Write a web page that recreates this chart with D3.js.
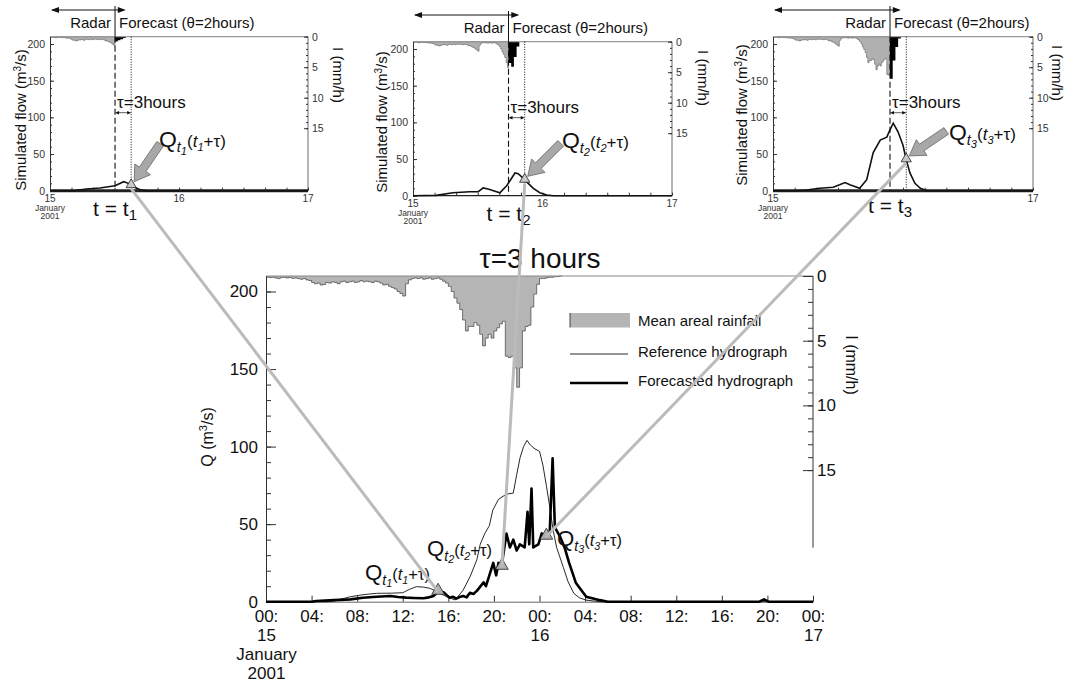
<!DOCTYPE html>
<html>
<head>
<meta charset="utf-8">
<script src="https://cdn.jsdelivr.net/npm/d3@7"></script>
<style>
body { margin: 0; background: #fff; }
svg { display: block; font-family: "Liberation Sans", Arial, Helvetica, sans-serif; }
</style>
</head>
<body>
<svg id="fig" width="1069" height="682"></svg>
<script>
// ---- data (hours since 00:00 15 January 2001) ----
const hourTicks = [0, 4, 8, 12, 16, 20, 24, 28, 32, 36, 40, 44, 48];
const hourLabels = ["00:", "04:", "08:", "12:", "16:", "20:", "00:", "04:", "08:", "12:", "16:", "20:", "00:"];
const dayLabels = { 0: ["15", "January", "2001"], 24: ["16"], 48: ["17"] };

// mean areal rainfall (mm/h), quarter-hour steps from 00:00 15 Jan
const rainMean = [
  0.10, 0.12, 0.10, 0.15,  0.20, 0.12, 0.10, 0.15,  0.12, 0.18, 0.15, 0.20,
  0.25, 0.20, 0.30, 0.35,  0.50, 0.60, 0.55, 0.70,  0.65, 0.50, 0.55, 0.45,
  0.50, 0.60, 0.45, 0.40,  0.50, 0.45, 0.40, 0.50,  0.45, 0.35, 0.45, 0.40,
  0.45, 0.50, 0.40, 0.45,  0.55, 0.70, 0.65, 0.80,  0.90, 1.00, 1.20, 1.35,
  1.55, 0.60, 0.30, 0.20,  0.15, 0.20, 0.15, 0.25,  0.20, 0.15, 0.25, 0.20,
  0.15, 0.25, 0.40, 0.55,  0.80, 1.20, 1.70, 2.10,  2.60, 3.40, 4.25, 3.90,
  3.90, 3.60, 3.80, 4.50,  5.40, 4.80, 4.50, 4.80,  4.25, 4.00, 3.70, 3.50,
  6.20, 6.30, 6.20, 7.10,  8.60, 7.10, 4.25, 3.90,  3.80, 2.40, 1.40, 0.64,
  0.20, 0.20, 0.15, 0.10,  0.10, 0.05, 0.05, 0.00];

// reference hydrograph
const refHours = [0, 5.5, 6, 7.4, 8.5, 9.7, 11, 12, 12.6, 13.2, 13.8, 14.4, 15, 15.85, 16.6, 17.3, 17.9, 18.5, 18.8, 19.2, 19.6, 19.9, 20.4, 20.8, 21.2, 21.7, 22, 22.3, 22.6, 22.9, 23.2, 23.6, 24, 24.3, 24.6, 24.9, 25.2, 25.5, 26.1, 26.5, 27, 27.5, 28.1, 29.3, 48];
const refQ = [0, 0, 0.5, 3.2, 4.5, 5.4, 5.5, 5.8, 8, 9.7, 9.4, 8.6, 6.5, 3.2, 1.1, 7.5, 16, 27, 37, 44, 49, 59, 66, 68, 69.5, 70, 82, 93, 100, 104, 101, 98.5, 97, 88, 75, 61, 46, 35, 22, 13, 5.5, 2.5, 1, 0, 0];

// forecasted hydrograph
const fcHours = [0, 4, 4.4, 6, 7.4, 8.5, 9.7, 10.9, 11.6, 12.3, 13, 13.8, 14.3, 14.7, 15.1, 15.6, 16.1, 16.4, 16.7, 17, 17.3, 17.6, 17.9, 18.2, 18.5, 18.8, 19.1, 19.3, 19.6, 19.94, 20.2, 20.4, 20.67, 21.1, 21.4, 21.7, 22.0, 22.28, 22.7, 22.95, 23.1, 23.3, 23.45, 23.9, 24.2, 24.6, 24.9, 25.15, 25.35, 25.8, 26.2, 26.6, 27.2, 28.1, 29.3, 30, 43.3, 43.7, 44.1, 48];
const fcQ = [0, 0, 0.5, 1, 1.5, 2.5, 3.2, 3.7, 3, 2.6, 2.4, 2.2, 2.8, 3.7, 6.5, 6, 2.6, 3.2, 2, 3, 3.7, 2.8, 5.8, 5, 7, 9.7, 12.5, 10, 17, 25, 17, 25, 22.6, 44, 35, 40, 33, 37, 35, 58, 37, 73, 35, 37, 44, 42, 45, 92.5, 48, 42, 35, 25, 12, 3.2, 1, 0, 0, 1.5, 0, 0];

// forecast instants t1..t3, lead time tau and forecast horizon theta (hours)
const forecastT = [12.1, 17.7, 21.6];
const tau = 3;
const theta = 2;
const mainTriQ = [6.5, 22.6, 42];

// simulated flow seen at each forecast instant
const panelHours = [
  [0, 4.3, 6.8, 9.3, 12.1, 13.7, 14.6, 15.3, 16.8, 18, 48],
  [0, 4.3, 7.4, 10.5, 12.1, 13, 13.9, 16.1, 17.4, 18.9, 19.5, 20.4, 21.4, 22.3, 23.5, 24.8, 26, 48],
  [0, 4, 6.2, 8.6, 11.1, 12.3, 13.3, 14.2, 16, 17.3, 18.5, 19.8, 21, 21.6, 22.2, 23.1, 24, 24.6, 25.3, 26.2, 27.2, 28.4, 48]
];
const panelQ = [
  [0, 0, 2.3, 3.6, 6.8, 12.3, 10, 6, 1.4, 0, 0],
  [0, 0.5, 4, 5.4, 5.4, 10.7, 9, 4, 14, 31, 30, 24, 16.5, 10, 4, 1, 0, 0],
  [0, 0, 1, 3.3, 4.7, 8, 11, 8, 3.3, 15, 52, 69, 73, 83, 92, 80, 62, 42, 24, 10, 3.3, 0, 0]
];
// forecast rainfall over theta (half-hour steps)
const panelFcRain = [[0.8, 0.6, 0.4, 0.2], [3.5, 4.1, 2.5, 0.8], [6.9, 3.9, 1.7, 0.3]];
const panelTriQ = [6.8, 21, 42];
const panelDayTicks = [[0, 24, 48], [0, 24, 48], [0, 48]];

// ---- layout ----
const panels = [
  { left: 50, right: 308, top: 36.7, q0: 190.7, arrowY: 10, ylab: [21, 120], ilab: [338, 75], tlabY: 216, qlab: [159, 147], arrowVec: [26, -38], base: 3 },
  { left: 413, right: 672, top: 41.7, q0: 195.7, arrowY: 15, ylab: [382, 122], ilab: [703, 78], tlabY: 221, qlab: [562, 148], arrowVec: [33, -33], base: 1.2 },
  { left: 773, right: 1033, top: 36.7, q0: 190.7, arrowY: 10, ylab: [742, 115], ilab: [1057, 73], tlabY: 213, qlab: [949, 140], arrowVec: [37, -25], base: 3 }
];
const mainQlab = [[365, 580], [427, 556], [557, 546]];

const svg = d3.select("#fig");
const rainColor = "#b5b5b5";
const linkColor = "#bbbbbb";

const rainPts = rainMean.map((v, i) => [i * 0.25, v]);

function styleAxis(g, size) {
  g.attr("font-family", null).attr("font-size", size);
  g.selectAll("text").attr("fill", "#111");
  g.selectAll("line").attr("stroke", "#333");
  g.select(".domain").attr("stroke", "#333");
}

function arrowHead(g, x0, y, dir, len, hw) {
  g.append("path")
    .attr("d", `M${x0},${y} L${x0 - dir * len},${y - hw} L${x0 - dir * len},${y + hw} Z`)
    .attr("fill", "#111");
}

function qLabel(g, xPos, yPos, idx, s) {
  const t = g.append("text").attr("x", xPos).attr("y", yPos).attr("fill", "#111");
  t.append("tspan").attr("font-size", s * 1.35).text("Q");
  t.append("tspan").attr("font-size", s * 0.85).attr("font-style", "italic").attr("dy", s * 0.3).text("t");
  t.append("tspan").attr("font-size", s * 0.65).attr("font-style", "italic").attr("dy", s * 0.15).text(idx);
  t.append("tspan").attr("font-size", s).attr("dy", -s * 0.45).text("(");
  t.append("tspan").attr("font-size", s).attr("font-style", "italic").text("t");
  t.append("tspan").attr("font-size", s * 0.65).attr("font-style", "italic").attr("dy", s * 0.25).text(idx);
  t.append("tspan").attr("font-size", s).attr("dy", -s * 0.25).text("+τ)");
}

// ================= main chart =================
const x = d3.scaleLinear().domain([0, 48]).range([266, 813]);
const q = d3.scaleLinear().domain([0, 210]).range([601.7, 276]);
const r = d3.scaleLinear().domain([0, 25]).range([276, 276 + 25 * 12.94]);

const main = svg.append("g");

const rainData = rainPts.concat([[26, 0]]);
main.append("path").datum(rainData)
  .attr("d", d3.area().curve(d3.curveStepAfter).x(d => x(d[0])).y0(r(0)).y1(d => r(d[1])))
  .attr("fill", rainColor);
main.append("path").datum(rainData)
  .attr("d", d3.line().curve(d3.curveStepAfter).x(d => x(d[0])).y(d => r(d[1])))
  .attr("fill", "none").attr("stroke", "#444").attr("stroke-width", 0.7);
main.append("line").attr("x1", x(0)).attr("x2", x(48)).attr("y1", r(0)).attr("y2", r(0))
  .attr("stroke", "#888").attr("stroke-width", 1.2);

// left axis
main.append("g").attr("transform", `translate(${x(0)},0)`)
  .call(d3.axisLeft(q).tickValues(d3.range(0, 210, 10)).tickSize(-5).tickSizeOuter(0).tickFormat(""))
  .call(g => styleAxis(g, 17));
main.append("g").attr("transform", `translate(${x(0)},0)`)
  .call(d3.axisLeft(q).tickValues([0, 50, 100, 150, 200]).tickSize(-10).tickSizeOuter(0).tickPadding(8))
  .call(g => styleAxis(g, 17));

// right axis
main.append("g").attr("transform", `translate(${x(48)},0)`)
  .call(d3.axisRight(r).tickValues(d3.range(0, 16)).tickSize(-5).tickFormat(""))
  .call(g => g.select(".domain").remove())
  .call(g => styleAxis(g, 17));
main.append("g").attr("transform", `translate(${x(48)},0)`)
  .call(d3.axisRight(r).tickValues([0, 5, 10, 15]).tickSize(-10).tickPadding(4))
  .call(g => g.select(".domain").remove())
  .call(g => styleAxis(g, 17));
main.append("line").attr("x1", x(48)).attr("x2", x(48)).attr("y1", r(0)).attr("y2", r(21))
  .attr("stroke", "#333");

// bottom axis
main.append("g").attr("transform", `translate(0,${q(0)})`)
  .call(d3.axisBottom(x).tickValues(hourTicks).tickSize(-6).tickSizeOuter(0).tickPadding(8)
    .tickFormat((d, i) => hourLabels[i]))
  .call(g => styleAxis(g, 17))
  .call(g => g.select(".domain").attr("stroke", "#666"))
  .call(g => g.selectAll(".tick text").each(function (d) {
    const extra = dayLabels[d];
    if (!extra) return;
    extra.forEach(s => d3.select(this).append("tspan").attr("x", 0).attr("dy", "1.12em").text(s));
  }));

// hydrographs
const qLine = d3.line().x(d => x(d[0])).y(d => q(d[1]));
main.append("path").datum(refHours.map((h, i) => [h, refQ[i]]))
  .attr("d", qLine).attr("fill", "none").attr("stroke", "#111").attr("stroke-width", 0.9);
main.append("path").datum(fcHours.map((h, i) => [h, fcQ[i]]))
  .attr("d", qLine).attr("fill", "none").attr("stroke", "#000").attr("stroke-width", 2.6)
  .attr("stroke-linejoin", "round");

// axis titles
main.append("text").attr("transform", "translate(213,437) rotate(-90)")
  .attr("text-anchor", "middle").attr("font-size", 16).attr("fill", "#111")
  .html('Q (m<tspan dy="-6" font-size="11">3</tspan><tspan dy="6">/s)</tspan>');
main.append("text").attr("transform", "translate(846,365) rotate(90)")
  .attr("text-anchor", "middle").attr("font-size", 16).attr("fill", "#111").text("I (mm/h)");

// title
main.append("text").attr("x", 540).attr("y", 268).attr("text-anchor", "middle")
  .attr("font-size", 28).attr("fill", "#111").text("τ=3 hours");

// legend
const leg = main.append("g");
leg.append("rect").attr("x", 570).attr("y", 313).attr("width", 60).attr("height", 14.5).attr("fill", rainColor);
leg.append("line").attr("x1", 570).attr("x2", 570).attr("y1", 313).attr("y2", 327.5).attr("stroke", "#444");
leg.append("line").attr("x1", 570).attr("x2", 628).attr("y1", 354).attr("y2", 354).attr("stroke", "#111").attr("stroke-width", 0.9);
leg.append("line").attr("x1", 570).attr("x2", 628).attr("y1", 383).attr("y2", 383).attr("stroke", "#000").attr("stroke-width", 2.6);
[["Mean areal rainfall", 326], ["Reference hydrograph", 357], ["Forecasted hydrograph", 386]].forEach(d => {
  leg.append("text").attr("x", 638).attr("y", d[1]).attr("font-size", 15).attr("fill", "#111").text(d[0]);
});

// triangles + labels on main
const mainTri = forecastT.map((t, i) => [x(t + tau), q(mainTriQ[i])]);
mainTri.forEach((p, i) => {
  main.append("path").attr("d", d3.symbol(d3.symbolTriangle).size(70)())
    .attr("transform", `translate(${p[0]},${p[1] - 1})`)
    .attr("fill", "#b0b0b0").attr("stroke", "#222").attr("stroke-width", 0.8);
  qLabel(main, mainQlab[i][0], mainQlab[i][1], String(i + 1), 16.5);
});

// ================= top panels =================
const panelTri = [];
panels.forEach((p, k) => {
  const t = forecastT[k];
  const g = svg.append("g");
  const px = d3.scaleLinear().domain([0, 48]).range([p.left, p.right]);
  const pq = d3.scaleLinear().domain([0, 210]).range([p.q0, p.top]);
  const pr = d3.scaleLinear().domain([0, 25]).range([p.top, p.top + 25 * 6.1]);

  // observed (radar) rainfall up to t, forecast rainfall over theta
  const obs = rainPts.filter(d => d[0] < t).concat([[t, 0]]);
  const fc = panelFcRain[k].map((v, i) => [t + i * 0.5, v]).concat([[t + theta, 0]]);
  const rArea = d3.area().curve(d3.curveStepAfter).x(d => px(d[0])).y0(pr(0)).y1(d => pr(d[1]));
  g.append("path").datum(obs).attr("d", rArea).attr("fill", "#b0b0b0")
    .attr("stroke", "#555").attr("stroke-width", 0.5);
  g.append("path").datum(fc).attr("d", rArea).attr("fill", "#000");

  // frame
  g.append("line").attr("x1", p.left).attr("x2", p.right).attr("y1", p.top).attr("y2", p.top)
    .attr("stroke", "#999").attr("stroke-width", 1.2);
  g.append("line").attr("x1", p.right).attr("x2", p.right).attr("y1", p.top).attr("y2", p.q0)
    .attr("stroke", "#444").attr("stroke-width", 0.8);
  g.append("line").attr("x1", p.left).attr("x2", p.right).attr("y1", p.q0).attr("y2", p.q0)
    .attr("stroke", "#222").attr("stroke-width", p.base);

  g.append("g").attr("transform", `translate(${p.left},0)`)
    .call(d3.axisLeft(pq).tickValues(d3.range(0, 210, 10)).tickSize(-2).tickSizeOuter(0).tickFormat(""))
    .call(gg => styleAxis(gg, 10));
  g.append("g").attr("transform", `translate(${p.left},0)`)
    .call(d3.axisLeft(pq).tickValues([0, 50, 100, 150, 200]).tickSize(-4).tickSizeOuter(0).tickPadding(5))
    .call(gg => styleAxis(gg, 10.5))
    .call(gg => gg.selectAll("text").attr("fill", "#333"));
  g.append("g").attr("transform", `translate(${p.right},0)`)
    .call(d3.axisRight(pr).tickValues(d3.range(0, 16)).tickSize(-2).tickFormat(""))
    .call(gg => gg.select(".domain").remove()).call(gg => styleAxis(gg, 10));
  g.append("g").attr("transform", `translate(${p.right},0)`)
    .call(d3.axisRight(pr).tickValues([0, 5, 10, 15]).tickSize(-4).tickPadding(4))
    .call(gg => gg.select(".domain").remove()).call(gg => styleAxis(gg, 10.5))
    .call(gg => gg.selectAll("text").attr("fill", "#333"));
  g.append("g").attr("transform", `translate(0,${p.q0})`)
    .call(d3.axisBottom(px).tickValues(hourTicks).tickSize(-3).tickSizeOuter(0).tickFormat(""))
    .call(gg => gg.select(".domain").remove()).call(gg => styleAxis(gg, 10));

  // date labels
  g.append("text").attr("x", px(0)).attr("y", p.q0 + 11.5).attr("text-anchor", "middle")
    .attr("font-size", 10).attr("fill", "#333").text("15");
  g.append("text").attr("x", px(0)).attr("y", p.q0 + 20).attr("text-anchor", "middle")
    .attr("font-size", 8.5).attr("fill", "#333").text("January");
  g.append("text").attr("x", px(0)).attr("y", p.q0 + 28.5).attr("text-anchor", "middle")
    .attr("font-size", 8.5).attr("fill", "#333").text("2001");
  panelDayTicks[k].filter(d => d > 0).forEach(d => g.append("text").attr("x", px(d)).attr("y", p.q0 + 11.5)
    .attr("text-anchor", "middle").attr("font-size", 10).attr("fill", "#333").text(d === 24 ? "16" : "17"));

  // axis titles
  g.append("text").attr("transform", `translate(${p.ylab[0]},${p.ylab[1]}) rotate(-90)`)
    .attr("text-anchor", "middle").attr("dy", "0.35em").attr("font-size", 15).attr("fill", "#111")
    .html('Simulated flow (m<tspan dy="-5" font-size="10">3</tspan><tspan dy="5">/s)</tspan>');
  g.append("text").attr("transform", `translate(${p.ilab[0]},${p.ilab[1]}) rotate(90)`)
    .attr("text-anchor", "middle").attr("dy", "0.35em").attr("font-size", 15).attr("fill", "#111").text("I (mm/h)");

  // flow curve
  g.append("path").datum(panelHours[k].map((h, i) => [h, panelQ[k][i]]))
    .attr("d", d3.line().x(d => px(d[0])).y(d => pq(d[1])))
    .attr("fill", "none").attr("stroke", "#111").attr("stroke-width", 1.6);

  // radar / forecast header
  const xt = px(t), xf = px(t + theta), xtau = px(t + tau);
  g.append("line").attr("x1", px(0) + 2).attr("x2", xf - 2).attr("y1", p.arrowY).attr("y2", p.arrowY)
    .attr("stroke", "#111").attr("stroke-width", 1);
  arrowHead(g, px(0) + 1, p.arrowY, -1, 8, 3);
  arrowHead(g, xf, p.arrowY, 1, 8, 3);
  g.append("line").attr("x1", xt).attr("x2", xt).attr("y1", p.arrowY - 4).attr("y2", p.top)
    .attr("stroke", "#111").attr("stroke-width", 1);
  g.append("text").attr("x", xt - 4).attr("y", p.top - 9).attr("text-anchor", "end")
    .attr("font-size", 15).attr("fill", "#111").text("Radar");
  g.append("text").attr("x", xt + 4).attr("y", p.top - 9)
    .attr("font-size", 15).attr("fill", "#111").text("Forecast (θ=2hours)");

  // t and t+tau markers
  g.append("line").attr("x1", xt).attr("x2", xt).attr("y1", p.top).attr("y2", p.q0)
    .attr("stroke", "#111").attr("stroke-width", 1.1).attr("stroke-dasharray", "6,3");
  g.append("line").attr("x1", xtau).attr("x2", xtau).attr("y1", p.top).attr("y2", p.q0)
    .attr("stroke", "#111").attr("stroke-width", 1).attr("stroke-dasharray", "1,1.5");
  const ay = p.top + 76;
  g.append("line").attr("x1", xt + 2).attr("x2", xtau - 2).attr("y1", ay).attr("y2", ay)
    .attr("stroke", "#333").attr("stroke-width", 0.8);
  arrowHead(g, xt, ay, -1, 4, 1.8);
  arrowHead(g, xtau, ay, 1, 4, 1.8);
  g.append("text").attr("x", xt + 2).attr("y", ay - 5).attr("font-size", 17).attr("fill", "#111").text("τ=3hours");

  // t = t_k
  g.append("text").attr("x", xt).attr("y", p.tlabY).attr("text-anchor", "middle").attr("font-size", 21)
    .attr("fill", "#111").html(`t = t<tspan font-size="15" dy="4">${k + 1}</tspan>`);

  // triangle, fat arrow, label
  const tri = [xtau, pq(panelTriQ[k])];
  panelTri.push(tri);
  g.append("path").attr("d", d3.symbol(d3.symbolTriangle).size(45)())
    .attr("transform", `translate(${tri[0]},${tri[1] - 1})`)
    .attr("fill", "#c8c8c8").attr("stroke", "#222").attr("stroke-width", 0.8);
  const tip = [tri[0] + 3, tri[1] - 4];
  const tail = [tip[0] + p.arrowVec[0], tip[1] + p.arrowVec[1]];
  const len = Math.hypot(tip[0] - tail[0], tip[1] - tail[1]);
  const u = [(tip[0] - tail[0]) / len, (tip[1] - tail[1]) / len];
  const n = [-u[1], u[0]];
  const neck = [tip[0] - u[0] * 15, tip[1] - u[1] * 15];
  const pt = (b, s) => [b[0] + n[0] * s, b[1] + n[1] * s];
  const poly = [pt(tail, 4), pt(neck, 4), pt(neck, 9.5), tip, pt(neck, -9.5), pt(neck, -4), pt(tail, -4)];
  g.append("path").attr("d", "M" + poly.map(d => d.join(",")).join("L") + "Z")
    .attr("fill", "#a8a8a8").attr("stroke", "#666").attr("stroke-width", 0.8);
  qLabel(g, p.qlab[0], p.qlab[1], String(k + 1), 17);
});

// connectors between panels and main chart
panelTri.forEach((p, i) => {
  svg.append("line").attr("x1", p[0]).attr("y1", p[1] + 3).attr("x2", mainTri[i][0]).attr("y2", mainTri[i][1])
    .attr("stroke", linkColor).attr("stroke-width", 3);
});
</script>
</body>
</html>
